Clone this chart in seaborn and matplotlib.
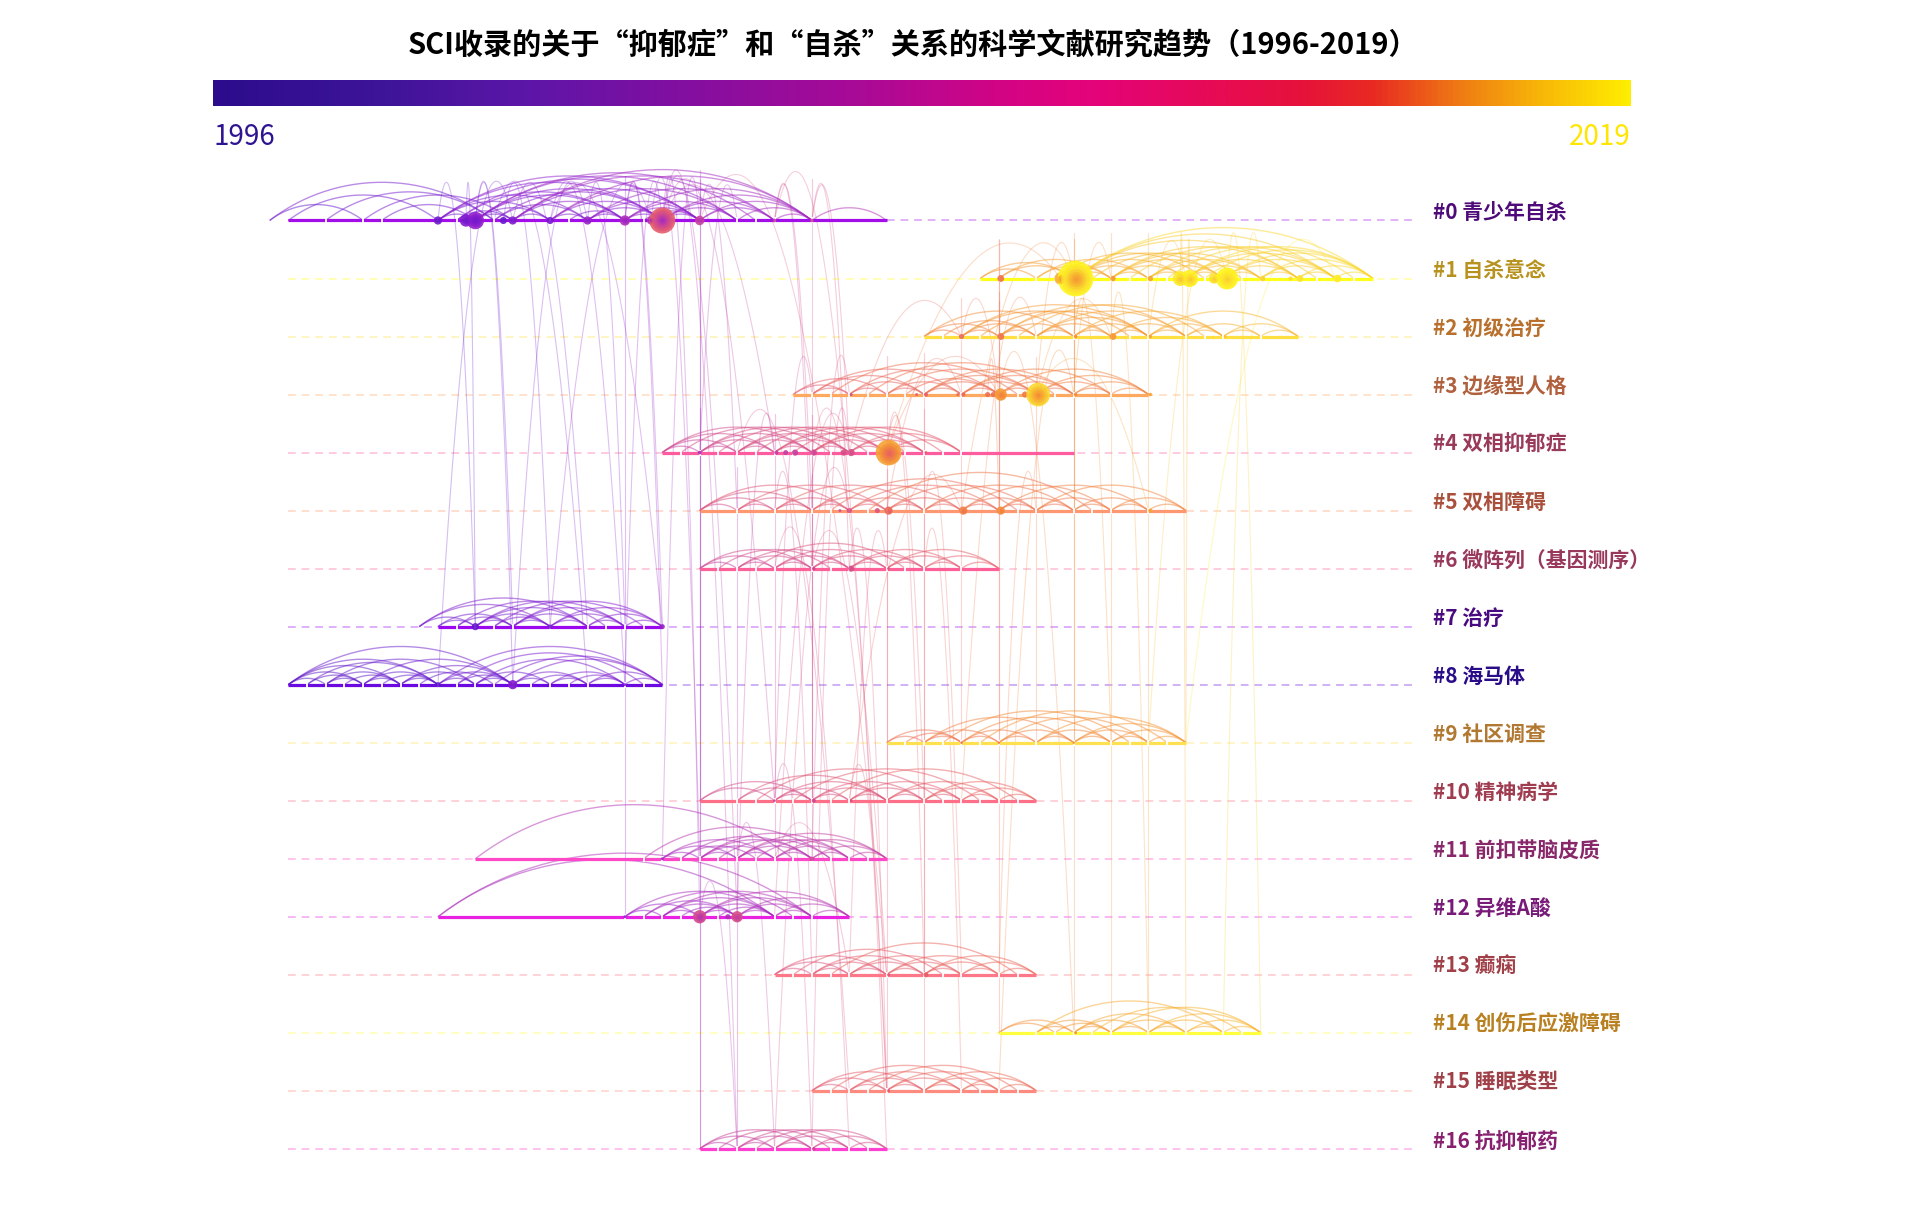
import numpy as np
import pandas as pd
import matplotlib
matplotlib.use('Agg')
import matplotlib.pyplot as plt
from matplotlib.collections import LineCollection
from matplotlib.colors import LinearSegmentedColormap
import seaborn as sns

sns.set_theme(style='white')
plt.rcParams['font.family'] = ['Noto Sans CJK SC', 'DejaVu Sans']

# ---------------- data ----------------
title = 'SCI收录的关于“抑郁症”和“自杀”关系的科学文献研究趋势（1996-2019）'
first_year, last_year = '1996', '2019'
n_slices = 59          # time slices on the timeline (1996 ... 2019)
axis_end = 61.2        # end of the dashed guide lines (in slices)

cluster_labels = ['#0 青少年自杀', '#1 自杀意念', '#2 初级治疗', '#3 边缘型人格',
                  '#4 双相抑郁症', '#5 双相障碍', '#6 微阵列（基因测序）', '#7 治疗',
                  '#8 海马体', '#9 社区调查', '#10 精神病学', '#11 前扣带脑皮质',
                  '#12 异维A酸', '#13 癫痫', '#14 创伤后应激障碍', '#15 睡眠类型',
                  '#16 抗抑郁药']
line_start = [1, 38, 35, 28, 21, 23, 23, 9, 1, 33, 23, 11, 9, 27, 39, 29, 23]
line_end = [33, 59, 55, 47, 43, 49, 39, 21, 21, 49, 41, 33, 31, 41, 53, 41, 33]

# co-citation arcs inside each cluster (slice from, slice to)
arcs_c0 = [(0, 5), (0, 12), (1, 9), (3, 12), (5, 13), (6, 11), (9, 11), (9, 15), (9, 17), (9, 21),
           (10, 13), (10, 19), (10, 23), (11, 13), (11, 15), (11, 21), (11, 25), (11, 26), (12, 17),
           (12, 21), (13, 15), (13, 19), (13, 23), (13, 27), (13, 29), (15, 17), (15, 21), (15, 25),
           (16, 19), (17, 19), (17, 21), (17, 23), (17, 27), (19, 21), (19, 23), (19, 25), (19, 29),
           (20, 23), (21, 23), (21, 25), (21, 27), (21, 29), (23, 27), (23, 29), (25, 29), (27, 29),
           (29, 33), (15, 29), (9, 23), (11, 19)]
arcs_c1 = [(38, 41), (38, 43), (39, 43), (39, 45), (41, 45), (41, 47), (43, 45), (43, 47), (43, 49),
           (43, 51), (43, 55), (43, 57), (43, 59), (45, 47), (45, 49), (45, 51), (45, 53), (45, 55),
           (47, 49), (47, 51), (47, 53), (47, 57), (49, 51), (49, 53), (49, 55), (49, 57), (49, 59),
           (51, 53), (51, 55), (51, 57), (51, 59), (53, 55), (53, 57), (53, 59), (55, 57), (55, 59),
           (57, 59), (44, 52), (46, 56), (48, 58), (50, 59), (42, 50)]
arcs_c2 = [(35, 37), (35, 39), (35, 43), (36, 41), (37, 39), (37, 41), (37, 45), (37, 47), (39, 41),
           (39, 43), (39, 47), (39, 49), (41, 43), (41, 45), (41, 47), (41, 49), (43, 45), (43, 47),
           (43, 51), (45, 47), (45, 49), (45, 51), (47, 49), (47, 51), (47, 55), (49, 51), (49, 53),
           (51, 53), (51, 55), (53, 55), (38, 46), (40, 50)]
arcs_c3 = [(28, 31), (28, 33), (29, 31), (29, 35), (29, 37), (31, 33), (31, 35), (31, 39), (33, 35),
           (33, 37), (33, 41), (34, 39), (35, 37), (35, 39), (35, 41), (35, 43), (37, 39), (37, 41),
           (37, 43), (37, 45), (39, 41), (39, 43), (39, 47), (41, 43), (41, 45), (41, 47), (43, 45),
           (43, 47), (45, 47), (30, 40), (32, 42)]
arcs_c4 = [(21, 23), (21, 25), (21, 27), (21, 29), (23, 25), (23, 27), (23, 29), (23, 31), (25, 27),
           (25, 29), (25, 31), (25, 33), (27, 29), (27, 31), (27, 33), (27, 35), (29, 31), (29, 33),
           (29, 35), (29, 37), (31, 33), (31, 35), (31, 37), (33, 35), (33, 37), (22, 30), (24, 32),
           (26, 34), (28, 36)]
arcs_c5 = [(23, 25), (23, 27), (23, 29), (23, 31), (25, 27), (25, 29), (25, 33), (27, 29), (27, 31),
           (27, 35), (29, 31), (29, 33), (29, 37), (31, 33), (31, 35), (31, 39), (33, 35), (33, 37),
           (33, 41), (35, 37), (35, 39), (35, 43), (37, 39), (37, 41), (37, 45), (39, 41), (39, 43),
           (39, 47), (41, 43), (41, 45), (41, 49), (43, 45), (43, 47), (45, 47), (45, 49), (47, 49),
           (30, 40), (32, 44)]
arcs_c6 = [(23, 25), (23, 27), (23, 29), (25, 27), (25, 29), (25, 31), (27, 29), (27, 31), (27, 33),
           (29, 31), (29, 33), (29, 35), (31, 33), (31, 35), (31, 37), (33, 35), (33, 37), (33, 39),
           (35, 37), (35, 39), (37, 39), (24, 30), (26, 34)]
arcs_c7 = [(8, 11), (8, 15), (8, 17), (9, 11), (9, 13), (10, 13), (11, 13), (11, 15), (11, 17),
           (11, 19), (12, 15), (13, 15), (13, 17), (13, 19), (13, 21), (15, 17), (15, 19), (15, 21),
           (17, 19), (17, 21), (19, 21), (10, 18), (12, 20)]
arcs_c8 = [(1, 3), (1, 5), (1, 7), (1, 9), (1, 13), (2, 5), (2, 9), (3, 5), (3, 7), (3, 11), (4, 7),
           (5, 7), (5, 9), (5, 13), (6, 9), (7, 9), (7, 11), (7, 13), (8, 12), (9, 11), (9, 13),
           (9, 21), (10, 13), (11, 13), (11, 15), (11, 19), (13, 15), (13, 17), (13, 21), (14, 17),
           (15, 17), (15, 19), (16, 19), (17, 19), (17, 21), (19, 21), (10, 20), (12, 21)]
arcs_c9 = [(33, 35), (33, 37), (34, 37), (35, 37), (35, 39), (35, 43), (37, 39), (37, 41), (37, 45),
           (39, 41), (39, 43), (39, 47), (41, 43), (41, 45), (41, 49), (43, 45), (43, 47), (43, 49),
           (45, 47), (45, 49), (47, 49), (36, 46), (38, 48)]
arcs_c10 = [(23, 27), (23, 29), (25, 29), (25, 33), (27, 29), (27, 31), (27, 33), (29, 31), (29, 33),
            (29, 35), (31, 33), (31, 35), (31, 37), (33, 35), (33, 37), (33, 39), (35, 37), (35, 39),
            (35, 41), (37, 39), (37, 41), (39, 41), (26, 36), (30, 40), (28, 38)]
arcs_c11 = [(21, 23), (21, 25), (21, 27), (22, 29), (23, 25), (23, 27), (23, 29), (23, 31), (25, 27),
            (25, 29), (25, 31), (25, 33), (27, 29), (27, 31), (27, 33), (29, 31), (29, 33), (31, 33),
            (22, 26), (24, 30), (26, 32), (11, 28), (20, 30)]
arcs_c12 = [(9, 27), (9, 29), (19, 21), (19, 23), (19, 27), (20, 25), (21, 23), (21, 25), (21, 27),
            (21, 29), (22, 25), (23, 25), (23, 27), (23, 29), (23, 31), (24, 27), (25, 27), (25, 29),
            (25, 31), (27, 29), (27, 31), (29, 31), (20, 28)]
arcs_c13 = [(27, 29), (27, 31), (27, 33), (29, 31), (29, 33), (29, 35), (31, 33), (31, 35), (31, 37),
            (33, 35), (33, 37), (33, 39), (35, 37), (35, 39), (35, 41), (37, 39), (37, 41), (39, 41),
            (28, 36), (30, 40)]
arcs_c14 = [(39, 42), (39, 43), (41, 43), (41, 45), (42, 45), (43, 45), (43, 47), (43, 49), (45, 47),
            (45, 49), (45, 53), (47, 49), (47, 51), (47, 53), (49, 51), (49, 53), (51, 53), (44, 52),
            (41, 51)]
arcs_c15 = [(29, 31), (29, 33), (29, 35), (31, 33), (31, 35), (31, 37), (33, 35), (33, 37), (33, 39),
            (35, 37), (35, 39), (35, 41), (37, 39), (37, 41), (39, 41), (30, 38), (32, 40)]
arcs_c16 = [(23, 25), (23, 27), (23, 29), (25, 27), (25, 29), (25, 31), (27, 29), (27, 31), (27, 33),
            (29, 31), (29, 33), (31, 33), (24, 30), (26, 32)]
cluster_arcs = [arcs_c0, arcs_c1, arcs_c2, arcs_c3, arcs_c4, arcs_c5, arcs_c6, arcs_c7, arcs_c8,
                arcs_c9, arcs_c10, arcs_c11, arcs_c12, arcs_c13, arcs_c14, arcs_c15, arcs_c16]

# links between clusters (cluster a, slice a, cluster b, slice b)
links = [(0, 10.5, 7, 11), (0, 11, 7, 13), (0, 11, 8, 13), (0, 12.5, 7, 15), (0, 13, 8, 9),
         (0, 13, 7, 17), (0, 15, 8, 19), (0, 15, 7, 21), (0, 17, 7, 19), (0, 17, 8, 13),
         (0, 19, 7, 21), (0, 19, 8, 21), (0, 20.4, 7, 15), (0, 21, 8, 19), (0, 9, 7, 11),
         (0, 12, 8, 17), (0, 21, 12, 23), (0, 21, 12, 25), (0, 23, 11, 21), (0, 19, 12, 19),
         (0, 20.4, 11, 23), (0, 23, 16, 23), (0, 21, 16, 25), (0, 21, 4, 27), (0, 23, 5, 25),
         (0, 27, 6, 29), (0, 29, 10, 29), (0, 21, 10, 27), (0, 23, 13, 33), (0, 27, 15, 33),
         (0, 29, 4, 31), (0, 25, 4, 23), (0, 27, 5, 29), (0, 23, 10, 23), (0, 29, 6, 31),
         (4, 33, 13, 35), (4, 29, 10, 29), (5, 33, 15, 33), (3, 35, 13, 35), (4, 31, 16, 29),
         (5, 37, 10, 31), (6, 31, 15, 33), (4, 33, 10, 35), (3, 31, 11, 29), (5, 31, 16, 27),
         (4, 27, 12, 25), (6, 29, 13, 33), (10, 31, 15, 33), (5, 29, 11, 29), (4, 23, 16, 23),
         (5, 25, 16, 25), (4, 29, 16, 33), (3, 29, 10, 27), (4, 27, 11, 27), (6, 33, 13, 31),
         (5, 27, 13, 29), (4, 25, 15, 31), (6, 27, 16, 31), (10, 27, 16, 29), (5, 35, 13, 37),
         (4, 35, 15, 35), (3, 33, 10, 33), (6, 35, 15, 37), (5, 41, 13, 39), (11, 25, 16, 27),
         (12, 23, 16, 25), (11, 27, 13, 31), (3, 43, 15, 39), (2, 41, 10, 37), (4, 31, 12, 27),
         (2, 37, 3, 39), (2, 39, 5, 39), (3, 41, 5, 47), (2, 43, 5, 43), (1, 43, 3, 41),
         (1, 39, 2, 39), (1, 42.3, 4, 33), (1, 43, 5, 37), (2, 45, 3, 41), (1, 49, 2, 47),
         (3, 39, 4, 33), (3, 37, 5, 33), (2, 37, 4, 31), (1, 45, 3, 43), (3, 38.4, 5, 39),
         (1, 43, 14, 43), (1, 45, 14, 45), (1, 48.7, 14, 49), (1, 51.2, 14, 53), (1, 49.2, 9, 49),
         (1, 43, 9, 43), (1, 39, 9, 39), (2, 39, 14, 39), (2, 45, 14, 47), (3, 41, 9, 41),
         (3, 39, 14, 43), (2, 37, 9, 37), (1, 47, 14, 47), (1, 51.2, 9, 47), (1, 53, 14, 51),
         (2, 43, 9, 45), (1, 57, 9, 49)]

# cited references: (cluster, slice, citations)
nodes = [(0, 9, 16), (0, 10.5, 36), (0, 11, 72), (0, 12.5, 12), (0, 13, 16), (0, 15, 12), (0, 17, 16),
         (0, 19, 25), (0, 20.4, 16), (0, 21, 160), (0, 23, 21), (0, 27, 3), (0, 29, 3),
         (1, 39.1, 11), (1, 42.3, 36), (1, 43.1, 300), (1, 45.1, 7), (1, 47.1, 7), (1, 48.7, 53),
         (1, 49.2, 69), (1, 50.5, 25), (1, 51.2, 114), (1, 53.1, 7), (1, 54.6, 4), (1, 55.1, 11),
         (1, 57.1, 14),
         (2, 37, 6), (2, 39.1, 11), (2, 43.1, 3), (2, 45.1, 11), (2, 47.1, 3), (2, 51.1, 2),
         (3, 31.1, 2), (3, 34.6, 2), (3, 35.1, 4), (3, 36.8, 2), (3, 37.1, 4), (3, 38.4, 6),
         (3, 38.7, 6), (3, 39.1, 36), (3, 40.4, 9), (3, 41.1, 132), (3, 43.1, 3), (3, 47.1, 3),
         (4, 23, 3), (4, 27.1, 4), (4, 27.6, 6), (4, 28.1, 9), (4, 29.1, 9), (4, 30.7, 9),
         (4, 31.1, 12), (4, 33.1, 156), (4, 35.1, 2),
         (5, 30.5, 2), (5, 31, 6), (5, 32.5, 6), (5, 33.1, 16), (5, 37.1, 16), (5, 39.1, 16),
         (5, 47.1, 4),
         (6, 29.1, 3), (6, 31.1, 9), (6, 33.1, 2),
         (7, 11, 12), (7, 15, 5), (7, 21, 6),
         (8, 9, 6), (8, 13, 20), (8, 19, 2),
         (9, 37, 1.5), (9, 39, 1.5), (9, 43, 1.5),
         (10, 27, 1.5), (10, 29.1, 4), (10, 31.1, 1.5),
         (11, 21, 2), (11, 29, 5),
         (12, 19, 2), (12, 23, 42), (12, 24.5, 6), (12, 25, 30),
         (13, 33.1, 2), (13, 35.1, 6),
         (14, 43.1, 2), (15, 33.1, 2), (16, 29.1, 3)]

# ---------------- style ----------------
bar_cmap = LinearSegmentedColormap.from_list('bar', [
    (0.0, '#2c0c8c'), (0.12, '#3e1498'), (0.22, '#5c16a8'), (0.31, '#7c10a2'),
    (0.46, '#aa0a96'), (0.56, '#d40484'), (0.62, '#e4037a'), (0.70, '#e60a58'),
    (0.77, '#e6123a'), (0.82, '#e82a22'), (0.88, '#ef7a14'), (0.94, '#f8b808'),
    (1.0, '#ffee00')])
time_cmap = LinearSegmentedColormap.from_list('time', [
    (0.0, '#3c14b4'), (0.18, '#6418cc'), (0.33, '#8c1cd0'), (0.42, '#b030b8'),
    (0.50, '#d04890'), (0.58, '#e45a70'), (0.66, '#ee7050'), (0.74, '#f48c38'),
    (0.84, '#f8b430'), (0.93, '#fce030'), (1.0, '#fff41c')])
line_colors = ['#a30ee8', '#ffff1e', '#ffe040', '#ffa860', '#ff5ca0', '#ff9870', '#ff6098',
               '#9b08f0', '#6a0ae0', '#ffe050', '#ff7088', '#ff48c8', '#e822e0', '#ff7888',
               '#ffff40', '#ff8a80', '#ff40d0']
label_colors = ['#4e0a78', '#b8921e', '#b8702c', '#b0603c', '#983a58', '#a8503c', '#98385a',
                '#4a0a80', '#2a0c88', '#b07830', '#a03c50', '#88286a', '#781a78', '#a04048',
                '#b88020', '#a04048', '#882070']

W, H = 1920, 1215
fig = plt.figure(figsize=(W / 100, H / 100), dpi=100)
ax = fig.add_axes([0, 0, 1, 1])
xlim = (-14.42, 88.26)
ylim = (17.14, -3.80)
px_x = W / (xlim[1] - xlim[0])
px_y = H / (ylim[0] - ylim[1])
th = np.radians(37.6)


def arc_points(s0, s1, row):
    a = (s1 - s0) * px_x / 2
    R = a / np.sin(th)
    phi = np.linspace(-th, th, 32)
    xs = (s0 + s1) / 2 + R * np.sin(phi) / px_x
    ys = row - (R * np.cos(phi) - R * np.cos(th)) / px_y
    return np.column_stack([xs, ys])


def link_points(ra, sa, rb, sb):
    # quadratic curve that rises above the upper row and falls to the other one
    top = min(ra, rb) - (1.5 + 0.2 * abs(rb - ra))
    t = np.linspace(0, 1, 80)[:, None]
    P = np.array([[sa, ra], [(sa + sb) / 2, top], [sb, rb]], dtype=float)
    return (1 - t) ** 2 * P[0] + 2 * (1 - t) * t * P[1] + t ** 2 * P[2]


n_cl = len(cluster_labels)

# dashed guides + solid active span
for r in range(n_cl):
    ax.plot([1, axis_end], [r, r], ls=(0, (4, 3)), lw=1.4, color=line_colors[r], alpha=0.32, zorder=1)
    ax.plot([line_start[r], line_end[r]], [r, r], lw=2.3, color=line_colors[r],
            solid_capstyle='butt', zorder=3)
    ends = sorted({p for a in cluster_arcs[r] for p in a if line_start[r] < p < line_end[r]})
    ax.plot(ends, [r] * len(ends), ls='none', marker='|', ms=5, mew=1.3, color='white', zorder=3.5)

# inter-cluster links
segs, cols = [], []
for ra, sa, rb, sb in links:
    segs.append(link_points(ra, sa, rb, sb))
    cols.append(time_cmap(max(sa, sb) / n_slices))
ax.add_collection(LineCollection(segs, colors=cols, linewidths=0.8, alpha=0.28, zorder=1.5))

# intra-cluster arcs
segs, cols = [], []
for r in range(n_cl):
    mid = (line_start[r] + line_end[r]) / 2
    for s0, s1 in cluster_arcs[r]:
        segs.append(arc_points(s0, s1, r))
        cols.append(time_cmap((0.5 * mid + 0.5 * s1) / n_slices))
ax.add_collection(LineCollection(segs, colors=cols, linewidths=1.0, alpha=0.5, zorder=2))

# nodes with citation rings
df = pd.DataFrame(nodes, columns=['cluster', 'slice', 'cites'])
df['r'] = np.sqrt(df['cites'])
df['outer'] = np.where(df['r'] >= 4, np.minimum(df['slice'] + 1.1 * df['r'], n_slices), df['slice'])
k_area = 2.2
sns.scatterplot(data=df, x='slice', y='cluster', hue='outer', palette=time_cmap,
                hue_norm=(0, n_slices), size='cites',
                sizes=(k_area * df['cites'].min(), k_area * df['cites'].max()),
                size_norm=(df['cites'].min(), df['cites'].max()),
                linewidth=0, alpha=0.9, legend=False, ax=ax, zorder=4)
for _, nd in df[df['r'] >= 4].iterrows():
    n_ring = int(nd['r'] / 2.5) + 1
    for k in range(1, n_ring):
        frac = 1 - k / n_ring
        ax.scatter([nd['slice']], [nd['cluster']], s=k_area * nd['cites'] * frac ** 2,
                   color=time_cmap((nd['slice'] + (nd['outer'] - nd['slice']) * frac) / n_slices),
                   linewidths=0, alpha=0.75, zorder=4.5)

# cluster labels
for r in range(n_cl):
    ax.text(62.2, r - 0.14, cluster_labels[r], fontsize=15, fontweight='bold',
            color=label_colors[r], ha='left', va='center', zorder=6)

ax.set_xlim(*xlim)
ax.set_ylim(*ylim)
ax.axis('off')

# colour bar + title
cax = fig.add_axes([213 / W, 1 - 106.5 / H, 1418 / W, 26.5 / H])
cax.imshow(np.linspace(0, 1, 512)[None, :], aspect='auto', cmap=bar_cmap)
cax.axis('off')
fig.text(913 / W, 1 - 45 / H, title, ha='center', va='center', fontsize=21,
         fontweight='bold', color='black')
fig.text(213 / W, 1 - 137 / H, first_year, ha='left', va='center', fontsize=20, color='#2e1490')
fig.text(1631 / W, 1 - 137 / H, last_year, ha='right', va='center', fontsize=20, color='#ffe600')

fig.savefig('out.png', dpi=100, facecolor='white')
